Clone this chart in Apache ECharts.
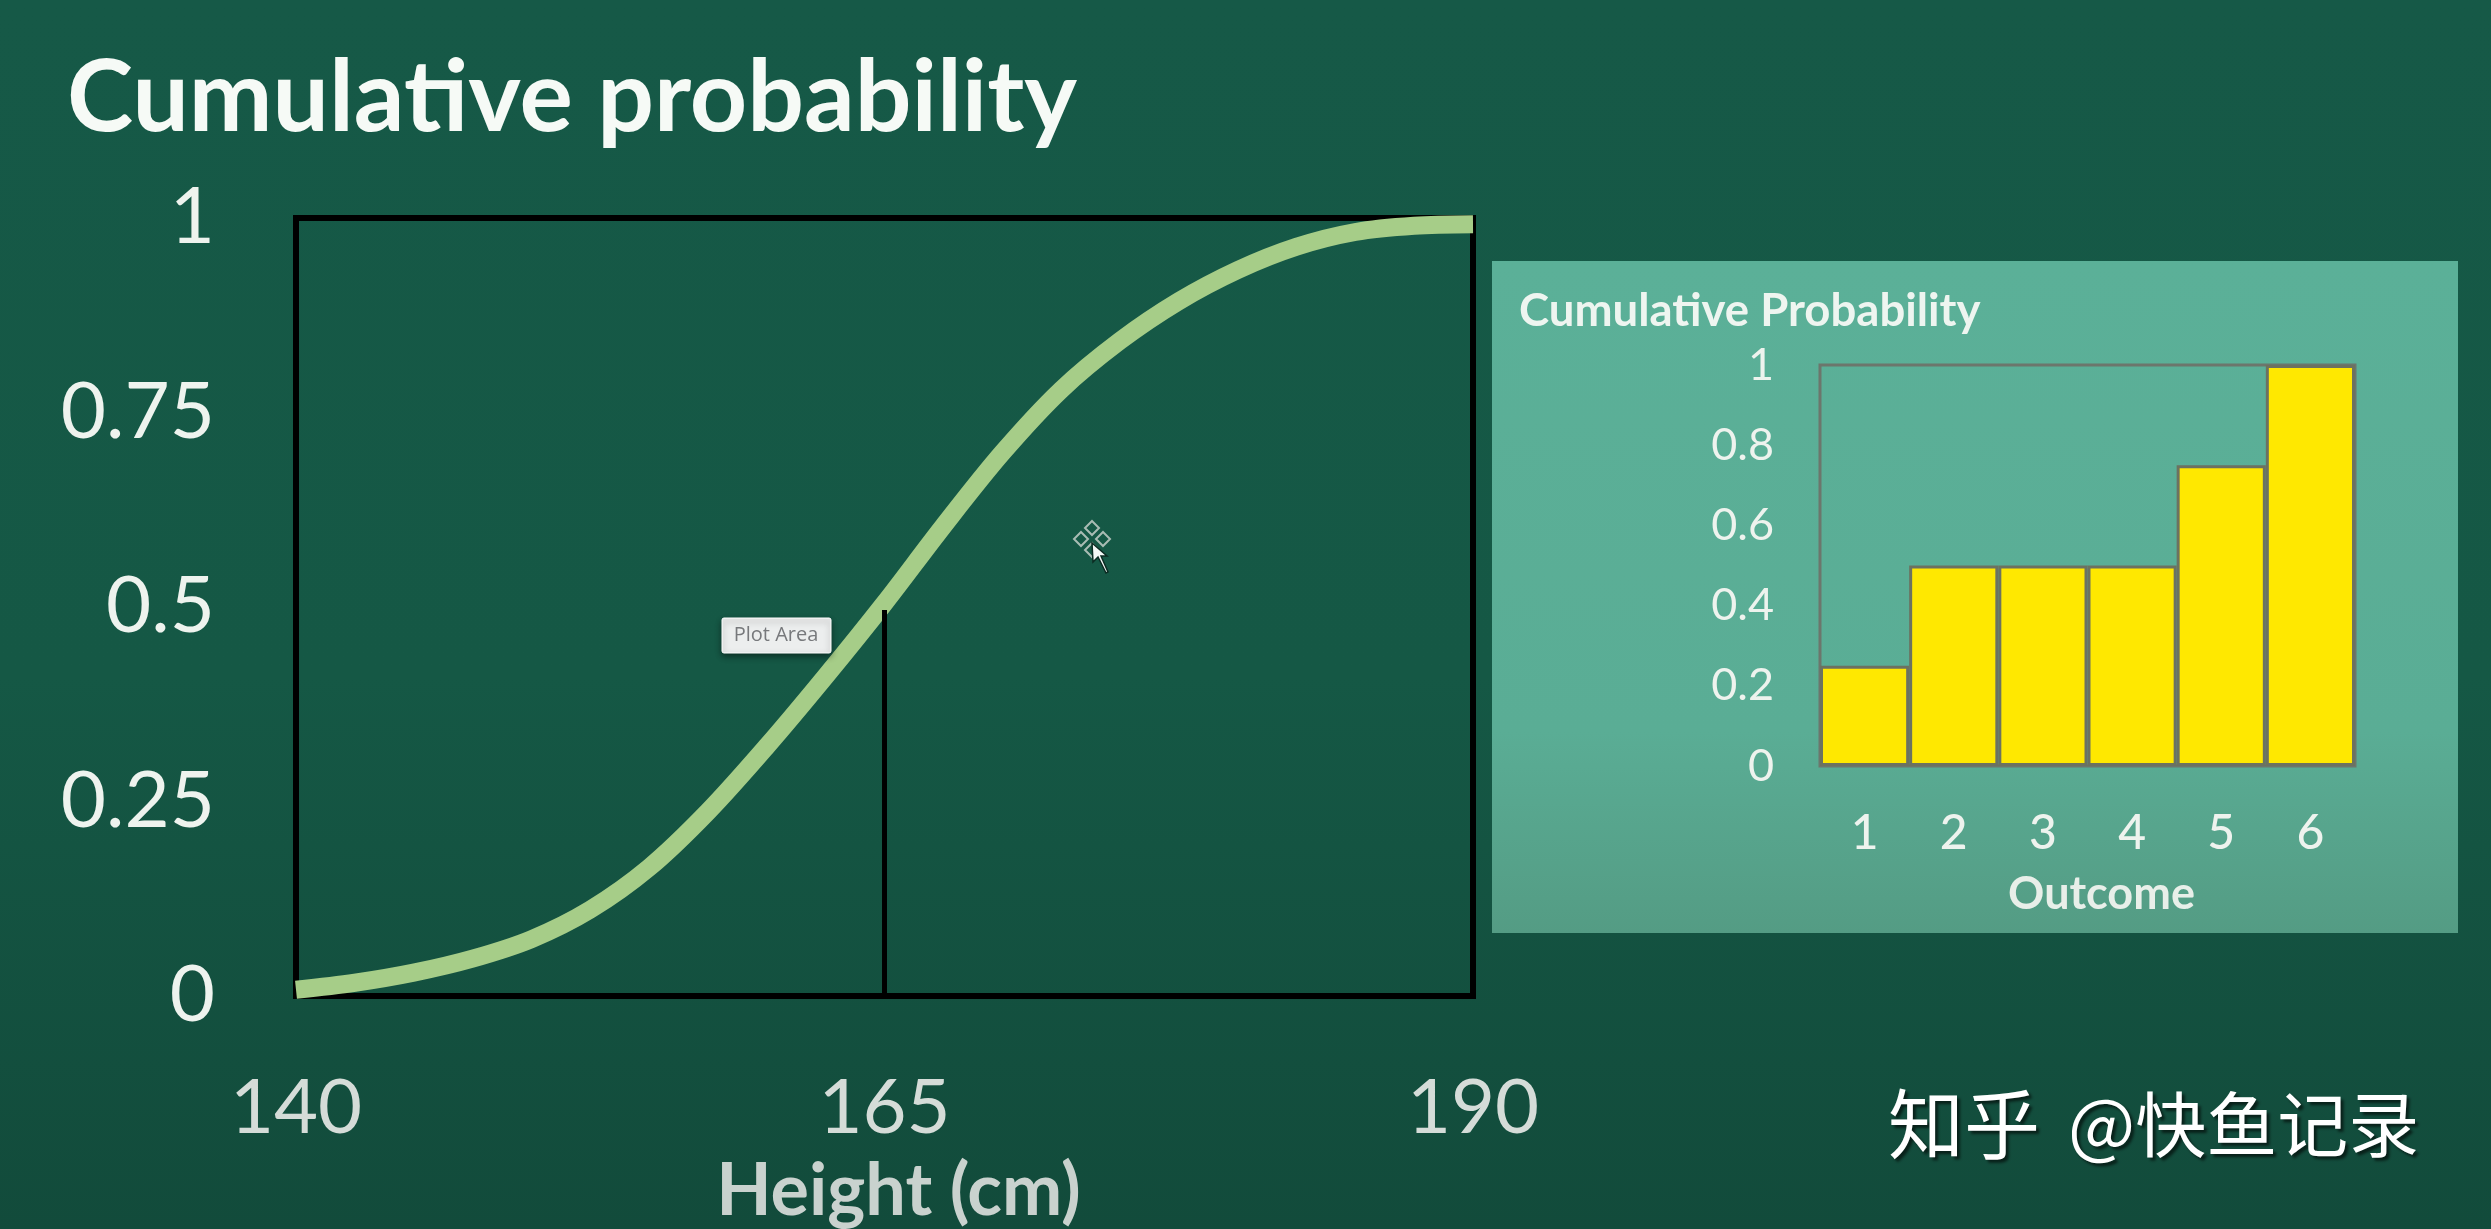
<!DOCTYPE html>
<html>
<head>
<meta charset="utf-8">
<style>
  html, body { margin: 0; padding: 0; background: #15523f; }
  #main { width: 2491px; height: 1229px; }
</style>
<script src="https://cdn.jsdelivr.net/npm/echarts@6/dist/echarts.min.js"></script>
</head>
<body>
<div id="main"></div>
<script>
const heightTicks = [140, 165, 190]
const cdfHeights = [140, 142.5, 145, 147.5, 150, 152.5, 155, 157.5, 160, 162.5, 165, 167.5, 170, 172.5, 175, 177.5, 180, 182.5, 185, 187.5, 190]
const cdfValues = [0.008, 0.017, 0.03, 0.048, 0.073, 0.111, 0.165, 0.237, 0.321, 0.411, 0.505, 0.604, 0.698, 0.779, 0.842, 0.893, 0.933, 0.963, 0.982, 0.99, 0.992]
const markerLine = [[165, 0], [165, 0.496]]
const outcomes = ['1', '2', '3', '4', '5', '6']
const outcomeProbs = [0.25, 0.5, 0.5, 0.5, 0.75, 1]

const FONT = 'Lato, "Open Sans", sans-serif'

let myChart = echarts.init(document.getElementById('main'), null, { renderer: 'canvas' })

// 光标上的四个小菱形
let moveIcon = [[0, -11], [11, 0], [0, 11], [-11, 0]].map(([dx, dy]) => ({
  type: 'polygon',
  z: 10,
  x: 1092 + dx,
  y: 539 + dy,
  shape: { points: [[0, -7], [7, 0], [0, 7], [-7, 0]] },
  style: { fill: 'transparent', stroke: '#a9bcb4', lineWidth: 2 },
}))

let option = {
  animation: false,
  backgroundColor: new echarts.graphic.LinearGradient(0, 0, 0, 1, [
    { offset: 0, color: '#165947' },
    { offset: 0.55, color: '#155845' },
    { offset: 1, color: '#124b3b' },
  ]),
  title: [
    {
      text: 'Cumulative probability',
      left: 62,
      top: 44,
      textStyle: {
        fontFamily: FONT,
        fontSize: 100,
        fontWeight: 'bold',
        color: '#f6faf6',
      },
    },
    {
      text: 'Cumulative Probability',
      left: 1514,
      top: 283,
      textStyle: {
        fontFamily: FONT,
        fontSize: 45.5,
        fontWeight: 'bold',
        color: '#eef5f0',
      },
    },
  ],
  grid: [
    { left: 296, top: 218, width: 1177, height: 778, outerBoundsMode: 'none', show: true, borderColor: '#000', borderWidth: 6, backgroundColor: 'transparent' },
    { left: 1820, top: 365, width: 535, height: 401, outerBoundsMode: 'none', show: true, borderColor: '#6c766c', borderWidth: 3, backgroundColor: 'transparent' },
  ],
  xAxis: [
    {
      gridIndex: 0,
      type: 'value',
      min: 140,
      max: 190,
      interval: 25,
      name: 'Height (cm)',
      nameLocation: 'middle',
      nameGap: 160,
      nameTextStyle: { fontFamily: FONT, fontSize: 72, fontWeight: 'bold', color: '#c9d2ce', padding: [0, 0, 0, 28] },
      axisLine: { show: false },
      axisTick: { show: false },
      splitLine: { show: false },
      axisLabel: { fontFamily: FONT, fontSize: 76, color: '#d5dcd8', margin: 74, customValues: heightTicks },
    },
    {
      gridIndex: 1,
      type: 'category',
      data: outcomes,
      name: 'Outcome',
      nameLocation: 'middle',
      nameGap: 106,
      nameTextStyle: { fontFamily: FONT, fontSize: 45, fontWeight: 'bold', color: '#e8efe9', padding: [0, 0, 0, 28] },
      axisLine: { show: false },
      axisTick: { show: false },
      axisLabel: { fontFamily: FONT, fontSize: 48, fontWeight: 500, color: '#eef3ee', margin: 44 },
    },
  ],
  yAxis: [
    {
      gridIndex: 0,
      type: 'value',
      min: 0,
      max: 1,
      interval: 0.25,
      axisLine: { show: false },
      axisTick: { show: false },
      splitLine: { show: false },
      axisLabel: { fontFamily: FONT, fontSize: 78, color: '#eef3ee', margin: 81 },
    },
    {
      gridIndex: 1,
      type: 'value',
      min: 0,
      max: 1,
      interval: 0.2,
      axisLine: { show: false },
      axisTick: { show: false },
      splitLine: { show: false },
      axisLabel: { fontFamily: FONT, fontSize: 45, color: '#eef3ee', margin: 46 },
    },
  ],
  series: [
    {
      type: 'line',
      xAxisIndex: 0,
      yAxisIndex: 0,
      data: markerLine,
      symbol: 'none',
      lineStyle: { color: '#000', width: 5 },
      z: 3,
    },
    {
      type: 'line',
      xAxisIndex: 0,
      yAxisIndex: 0,
      data: cdfHeights.map((h, i) => [h, cdfValues[i]]),
      symbol: 'none',
      smooth: 0.33,
      clip: false,
      lineStyle: { color: '#a6cd88', width: 18, cap: 'butt' },
      z: 2,
    },
    {
      type: 'bar',
      xAxisIndex: 1,
      yAxisIndex: 1,
      data: outcomeProbs,
      barWidth: '100%',
      itemStyle: { color: '#ffe800', borderColor: '#6c7260', borderWidth: 3 },
    },
  ],
  graphic: [
    // 右侧面板底色
    {
      type: 'rect',
      z: -1,
      shape: { x: 1492, y: 261, width: 966, height: 672 },
      style: {
        fill: new echarts.graphic.LinearGradient(0, 0, 0, 1, [
          { offset: 0, color: '#5bb098' },
          { offset: 0.7, color: '#5aad95' },
          { offset: 1, color: '#549c84' },
        ]),
      },
    },
    // Plot Area 提示框
    {
      type: 'rect',
      z: 10,
      shape: { x: 722, y: 618, width: 109, height: 35, r: 2 },
      style: { fill: '#eceeee', stroke: '#ffffff', lineWidth: 1, shadowBlur: 6, shadowColor: 'rgba(0,0,0,0.45)', shadowOffsetY: 3 },
    },
    {
      type: 'text',
      z: 11,
      x: 776,
      y: 635,
      style: { text: 'Plot Area', fontFamily: '"Open Sans", sans-serif', fontSize: 20, fill: '#77797c', align: 'center', verticalAlign: 'middle' },
    },
    ...moveIcon,
    // 鼠标
    {
      type: 'polygon',
      z: 11,
      shape: { points: [[1092, 543], [1093, 562], [1098, 557], [1106, 573], [1108, 572], [1101, 556], [1107, 556]] },
      style: { fill: '#f4f8f6', stroke: '#0b2b22', lineWidth: 1.5 },
    },
    // 水印
    {
      type: 'text',
      z: 12,
      x: 1888,
      y: 1124,
      style: {
        text: '知乎',
        fontFamily: '"Noto Sans CJK SC", sans-serif',
        fontSize: 76,
        fill: '#ffffff',
        verticalAlign: 'middle',
        textShadowColor: 'rgba(0,0,0,0.6)',
        textShadowBlur: 3,
        textShadowOffsetX: 3,
        textShadowOffsetY: 3,
      },
    },
    {
      type: 'text',
      z: 12,
      x: 2068,
      y: 1124,
      style: {
        text: '@快鱼记录',
        fontFamily: '"Noto Sans CJK SC", sans-serif',
        fontSize: 71,
        fill: '#ffffff',
        verticalAlign: 'middle',
        textShadowColor: 'rgba(0,0,0,0.6)',
        textShadowBlur: 3,
        textShadowOffsetX: 3,
        textShadowOffsetY: 3,
      },
    },
  ],
}

myChart.setOption(option)
window.addEventListener('resize', () => {
  myChart.resize()
})
</script>
</body>
</html>
